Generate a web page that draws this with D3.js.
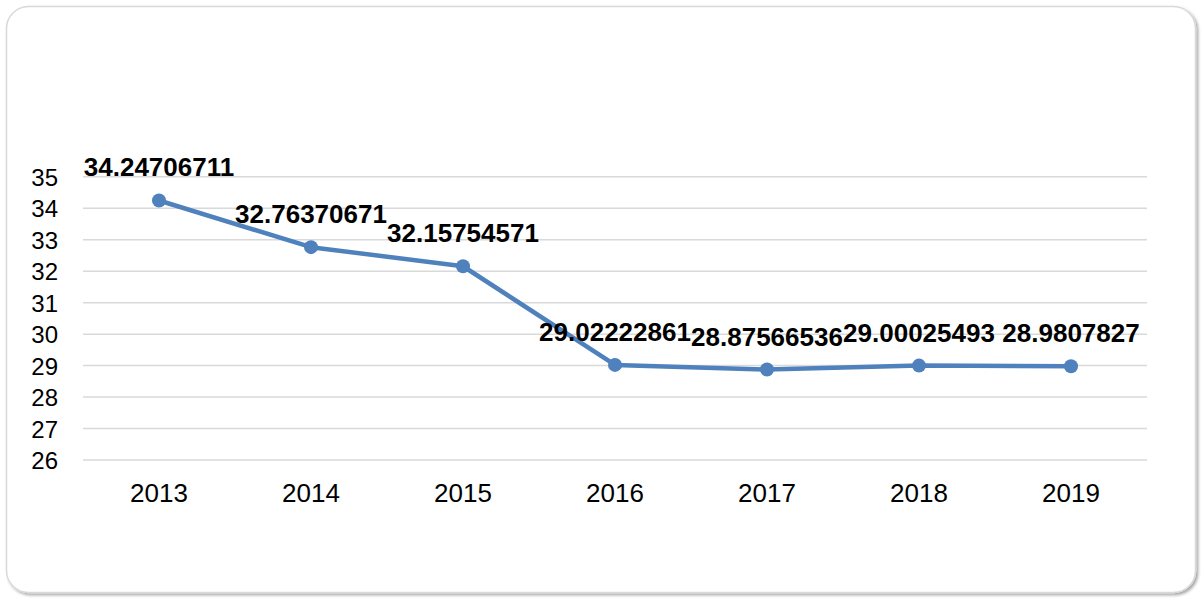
<!DOCTYPE html>
<html>
<head>
<meta charset="utf-8">
<script src="https://cdn.jsdelivr.net/npm/d3@7"></script>
<style>
  html, body { margin: 0; padding: 0; background: #ffffff; }
  svg { display: block; }
</style>
</head>
<body>
<svg id="chart" width="1202" height="598"></svg>
<script>
// Yearly series
const years = ["2013", "2014", "2015", "2016", "2017", "2018", "2019"];
const values = [34.24706711, 32.76370671, 32.15754571, 29.02222861, 28.87566536, 29.00025493, 28.9807827];
const valueLabels = ["34.24706711", "32.76370671", "32.15754571", "29.02222861", "28.87566536", "29.00025493", "28.9807827"];
const yTicks = [26, 27, 28, 29, 30, 31, 32, 33, 34, 35];

const svg = d3.select("#chart");

// Card frame with soft shadow
const defs = svg.append("defs");
const f = defs.append("filter").attr("id", "shadow")
  .attr("x", "-5%").attr("y", "-5%").attr("width", "110%").attr("height", "110%");
f.append("feDropShadow").attr("dx", 2).attr("dy", 2).attr("stdDeviation", 1.5)
  .attr("flood-color", "#000").attr("flood-opacity", 0.35);

svg.append("rect")
  .attr("x", 6.5).attr("y", 6.5).attr("width", 1189).attr("height", 586)
  .attr("rx", 22).attr("ry", 22)
  .attr("fill", "#ffffff").attr("stroke", "#d9d9d9").attr("stroke-width", 1.5)
  .attr("filter", "url(#shadow)");

const plot = { left: 83, right: 1147, top: 176.8, bottom: 460 };

const x = d3.scaleBand().domain(years).range([plot.left, plot.right]).padding(0);
const y = d3.scaleLinear().domain([26, 35]).range([plot.bottom, plot.top]);

// Horizontal gridlines
svg.append("g").selectAll("line").data(yTicks).join("line")
  .attr("x1", plot.left).attr("x2", plot.right)
  .attr("y1", d => y(d)).attr("y2", d => y(d))
  .attr("stroke", "#d9d9d9").attr("stroke-width", 1.5);

// Y axis labels
const yAxis = d3.axisLeft(y).tickValues(yTicks).tickSize(0).tickPadding(0).tickFormat(d3.format("d"));
const gy = svg.append("g").attr("transform", "translate(58,0)").call(yAxis);
gy.select(".domain").remove();
gy.selectAll("text")
  .attr("font-family", "Liberation Sans, Arial, sans-serif")
  .attr("font-size", 24).attr("fill", "#000").attr("dy", "0.36em");

// X axis labels
const xAxis = d3.axisBottom(x).tickSize(0).tickPadding(0);
const gx = svg.append("g").attr("transform", "translate(0,502)").call(xAxis);
gx.select(".domain").remove();
gx.selectAll("text")
  .attr("font-family", "Liberation Sans, Arial, sans-serif")
  .attr("font-size", 26).attr("fill", "#000").attr("dy", 0).attr("y", 0);

const cx = d => x(d) + x.bandwidth() / 2;
const data = years.map((yr, i) => ({ yr, v: values[i], label: valueLabels[i] }));

// Series line
svg.append("path").datum(data)
  .attr("fill", "none").attr("stroke", "#4f81bd").attr("stroke-width", 4.5)
  .attr("stroke-linejoin", "round").attr("stroke-linecap", "round")
  .attr("d", d3.line().x(d => cx(d.yr)).y(d => y(d.v)));

// Markers
svg.append("g").selectAll("circle").data(data).join("circle")
  .attr("cx", d => cx(d.yr)).attr("cy", d => y(d.v)).attr("r", 7)
  .attr("fill", "#4f81bd");

// Value labels
svg.append("g").selectAll("text").data(data).join("text")
  .attr("x", d => cx(d.yr)).attr("y", d => y(d.v) - 24)
  .attr("text-anchor", "middle")
  .attr("font-family", "Liberation Sans, Arial, sans-serif")
  .attr("font-weight", "bold").attr("font-size", 26).attr("fill", "#000")
  .text(d => d.label);
</script>
</body>
</html>
